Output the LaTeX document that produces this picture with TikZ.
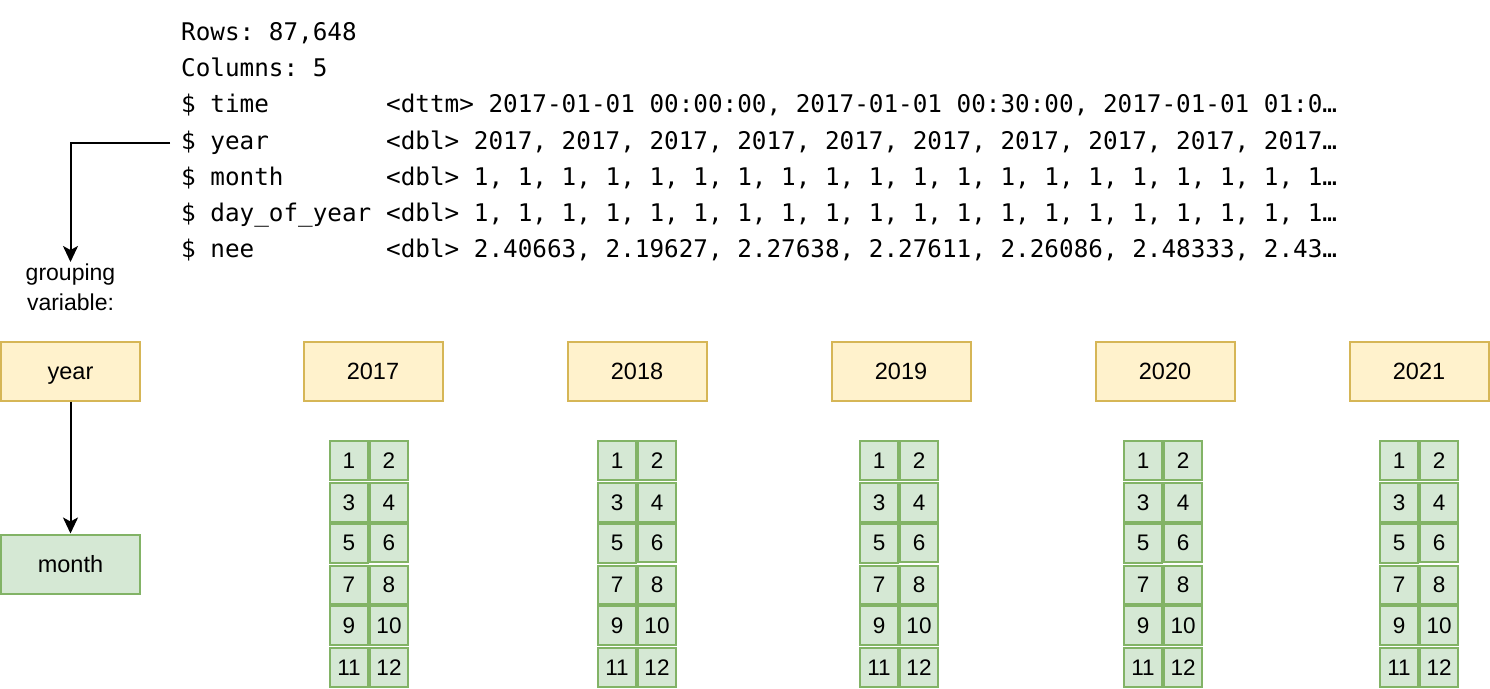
\documentclass[tikz,border=0pt]{standalone}
\usepackage{fontspec}
\setmainfont{Liberation Sans}
\setmonofont{DejaVu Sans Mono}
\usetikzlibrary{%
    arrows.meta,
    matrix,
    positioning
}

\definecolor{yellowfill}{HTML}{FFF2CC}
\definecolor{yellowline}{HTML}{D6B656}
\definecolor{greenfill}{HTML}{D5E8D4}
\definecolor{greenline}{HTML}{82B366}

\tikzset{
    yearbox/.style={draw=yellowline, fill=yellowfill, line width=2pt,
                    minimum width=139pt, minimum height=59pt,
                    text height=17pt, text depth=0pt,
                    font=\fontsize{23.5}{27}\selectfont},
    monthbox/.style={yearbox, draw=greenline, fill=greenfill},
    cell/.style={draw=greenline, fill=greenfill, line width=2pt,
                 minimum width=38pt, minimum height=38.7pt, inner sep=0pt,
                 font=\fontsize{22.5}{26}\selectfont},
    glimpse/.style={anchor=west, inner sep=0pt,
                    text height=18pt, text depth=5pt,
                    font=\ttfamily\fontsize{24.3}{28}\selectfont},
    conn/.style={line width=2pt,
                 -{Stealth[length=16pt, width=15pt, inset=4pt]}}
}

\begin{document}
\begin{tikzpicture}[x=1pt, y=-1pt]
    \useasboundingbox (0,0) rectangle (1490,688);

    % glimpse() output
    \node[glimpse] (lrows)  at (181,34)    {Rows: 87,648};
    \node[glimpse] (lcols)  at (181,70.2)  {Columns: 5};
    \node[glimpse] (ltime)  at (181,106.4) {\$ time};
    \node[glimpse] (lyear)  at (181,142.6) {\$ year};
    \node[glimpse] (lmonth) at (181,178.8) {\$ month};
    \node[glimpse] (lday)   at (181,215)   {\$ day\_of\_year};
    \node[glimpse] (lnee)   at (181,251.2) {\$ nee};

    \node[glimpse] (vtime)  at (386,106.4) {<dttm> 2017-01-01 00:00:00, 2017-01-01 00:30:00, 2017-01-01 01:0…};
    \node[glimpse] (vyear)  at (386,142.6) {<dbl> 2017, 2017, 2017, 2017, 2017, 2017, 2017, 2017, 2017, 2017…};
    \node[glimpse] (vmonth) at (386,178.8) {<dbl> 1, 1, 1, 1, 1, 1, 1, 1, 1, 1, 1, 1, 1, 1, 1, 1, 1, 1, 1, 1…};
    \node[glimpse] (vday)   at (386,215)   {<dbl> 1, 1, 1, 1, 1, 1, 1, 1, 1, 1, 1, 1, 1, 1, 1, 1, 1, 1, 1, 1…};
    \node[glimpse] (vnee)   at (386,251.2) {<dbl> 2.40663, 2.19627, 2.27638, 2.27611, 2.26086, 2.48333, 2.43…};

    % grouping variables
    \node[anchor=north, inner sep=2pt, align=center,
          font=\fontsize{23}{30}\selectfont] (grp) at (70.5,262)
          {grouping\\variable:};
    \node[yearbox]  (year)  at (70.5,371) {year};
    \node[monthbox] (month) at (70.5,564) {month};

    \draw[conn] ([xshift=-11pt]lyear.west) -| (grp.north);
    \draw[conn] (year) -- (month);

    % one group per year
    \foreach \Year/\X in {2017/373,2018/637,2019/901,2020/1165,2021/1419}
        \node[yearbox] (y\Year) at (\X,371) {\Year};

    \foreach \Year/\X in {2017/369,2018/637,2019/899,2020/1163,2021/1419}
        \matrix (m\Year) [matrix of nodes, ampersand replacement=\&,
                          nodes={cell}, column sep=0pt, row sep=0pt,
                          inner sep=0pt, anchor=north
                         ] at (\X,440) {
            1  \& 2  \\[1pt]
            3  \& 4  \\
            5  \& 6  \\[1pt]
            7  \& 8  \\
            9  \& 10 \\[1pt]
            11 \& 12 \\
        };
\end{tikzpicture}
\end{document}
